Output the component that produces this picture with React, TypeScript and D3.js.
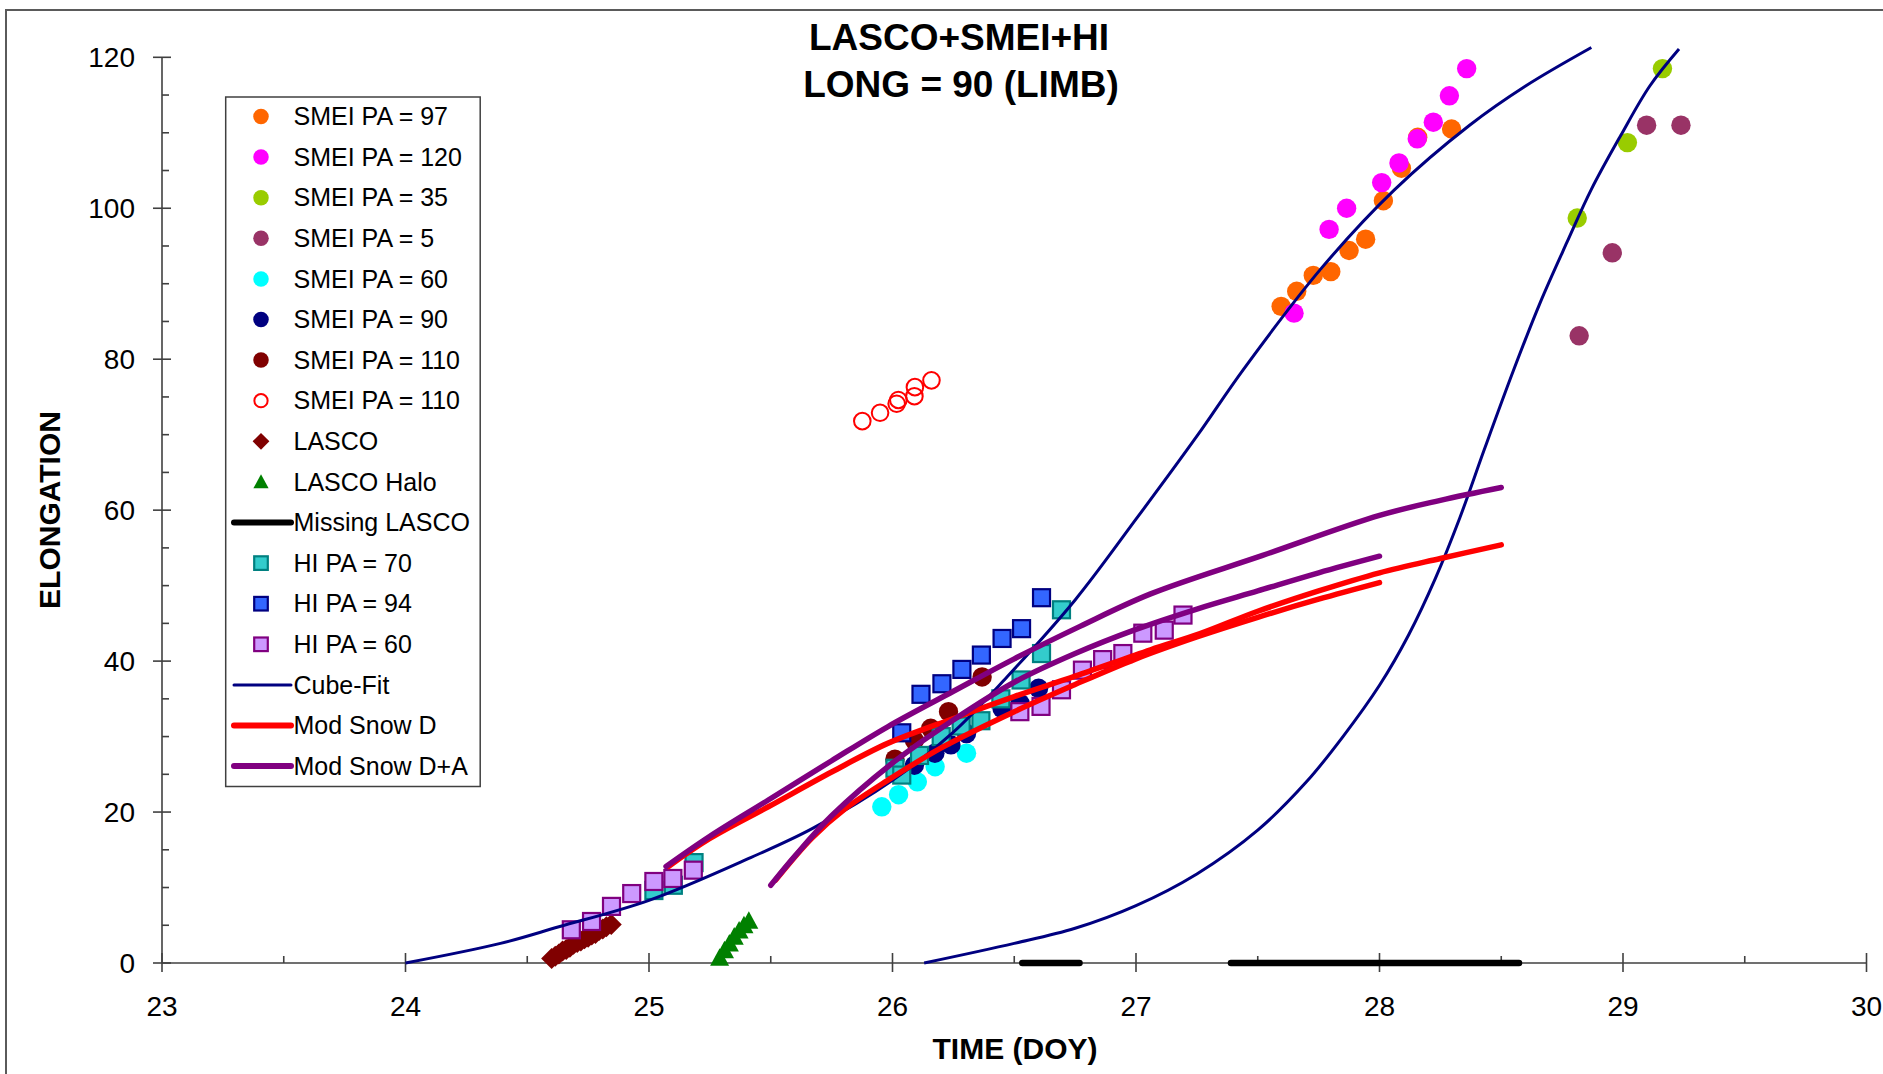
import React from 'react';
import * as d3 from 'd3';

type P = [number, number];

// ---------- data (time DOY, elongation) ----------
const smeiPA97: P[] = [[27.596, 87.0], [27.66, 89.0], [27.728, 91.1], [27.80, 91.6], [27.875, 94.4], [27.943, 95.9], [28.016, 101.0], [28.09, 105.3], [28.157, 109.4], [28.296, 110.5]];
const smeiPA120: P[] = [[27.649, 86.1], [27.793, 97.2], [27.865, 100.0], [28.009, 103.4], [28.08, 106.0], [28.155, 109.2], [28.221, 111.4], [28.287, 114.9], [28.358, 118.5]];
const smeiPA35: P[] = [[28.812, 98.7], [29.018, 108.7], [29.162, 118.5]];
const smeiPA5: P[] = [[28.82, 83.1], [28.956, 94.1], [29.097, 111.0], [29.238, 111.0]];
const smeiPA60: P[] = [[25.956, 20.7], [26.025, 22.3], [26.102, 24.0], [26.175, 26.0], [26.304, 27.8]];
const smeiPA90: P[] = [[26.09, 26.2], [26.174, 27.8], [26.24, 28.9], [26.304, 30.4], [26.45, 33.7], [26.524, 34.4], [26.6, 36.4]];
const smeiPA110: P[] = [[26.01, 27.0], [26.09, 29.5], [26.157, 31.1], [26.23, 33.3], [26.368, 37.9]];
const smeiPA110open: P[] = [[25.876, 71.8], [25.949, 72.9], [26.017, 74.1], [26.024, 74.6], [26.09, 75.1], [26.092, 76.3], [26.16, 77.2]];
const lasco: P[] = [[24.60, 0.6], [24.615, 0.9], [24.63, 1.2], [24.645, 1.6], [24.66, 1.8], [24.675, 2.1], [24.69, 2.5], [24.705, 2.7], [24.72, 2.9], [24.735, 3.2], [24.75, 3.4], [24.765, 3.7], [24.78, 3.9], [24.795, 4.3], [24.81, 4.5], [24.825, 4.8], [24.845, 5.1]];
const lascoHalo: P[] = [[25.29, 0.7], [25.31, 1.7], [25.33, 2.6], [25.35, 3.5], [25.37, 4.3], [25.39, 5.0], [25.41, 5.6]];
const missingLasco: P[][] = [[[26.533, 0], [26.768, 0]], [[27.39, 0], [28.573, 0]]];
const hiPA70: P[] = [[25.02, 9.6], [25.10, 10.3], [25.185, 13.3], [26.01, 25.8], [26.038, 24.9], [26.111, 27.5], [26.2, 30.0], [26.282, 31.4], [26.363, 32.1], [26.445, 35.0], [26.528, 37.5], [26.612, 41.0], [26.694, 46.8]];
const hiPA94: P[] = [[26.038, 30.5], [26.117, 35.6], [26.203, 37.0], [26.285, 38.9], [26.365, 40.8], [26.45, 43.0], [26.53, 44.3], [26.612, 48.4]];
const hiPA60: P[] = [[24.681, 4.4], [24.764, 5.5], [24.846, 7.5], [24.929, 9.2], [25.02, 10.8], [25.098, 11.2], [25.182, 12.3], [26.523, 33.3], [26.61, 34.0], [26.694, 36.2], [26.78, 38.8], [26.863, 40.2], [26.946, 41.0], [27.028, 43.7], [27.116, 44.1], [27.193, 46.1]];
const cubeFit1: P[] = [[24.0, 0], [24.39, 2.6], [24.63, 4.8], [25.0, 8.3], [25.42, 14.0], [25.67, 17.8], [26.0, 24.2], [26.25, 30.6], [26.47, 37.9], [26.75, 48.1], [27.0, 58.8], [27.25, 69.8], [27.44, 78.6], [27.76, 92.0], [28.06, 102.4], [28.37, 111.0], [28.6, 116.2], [28.87, 121.3]];
const cubeFit2: P[] = [[26.13, 0], [26.5, 2.6], [26.75, 4.6], [27.0, 7.6], [27.25, 11.8], [27.5, 17.6], [27.7, 24.0], [27.85, 30.0], [28.0, 36.8], [28.12, 43.5], [28.23, 51.0], [28.33, 59.0], [28.43, 68.0], [28.55, 78.5], [28.66, 87.5], [28.77, 95.5], [28.87, 102.5], [28.99, 109.6], [29.11, 116.2], [29.23, 121.1]];
const modSnowD1: P[] = [[25.08, 12.8], [25.25, 16.5], [25.49, 20.7], [25.75, 25.3], [25.98, 29.1], [26.25, 32.4], [26.5, 35.3], [26.75, 38.0], [27.06, 41.5], [27.26, 43.6], [27.5, 46.6], [27.75, 49.3], [28.0, 51.7], [28.25, 53.6], [28.5, 55.4]];
const modSnowD2: P[] = [[25.52, 11.0], [25.67, 16.6], [25.8, 20.3], [25.98, 24.2], [26.2, 28.5], [26.5, 33.3], [26.75, 36.9], [27.0, 40.3], [27.25, 43.2], [27.5, 45.8], [27.75, 48.2], [28.0, 50.4]];
const modSnowDA1: P[] = [[25.07, 12.8], [25.25, 16.8], [25.49, 21.6], [25.75, 26.8], [25.98, 31.3], [26.25, 36.0], [26.5, 40.3], [26.77, 44.6], [27.06, 48.9], [27.52, 54.0], [28.0, 59.3], [28.25, 61.3], [28.5, 63.0]];
const modSnowDA2: P[] = [[25.5, 10.3], [25.6, 14.2], [25.75, 19.5], [26.0, 26.5], [26.25, 32.2], [26.5, 37.2], [26.75, 41.0], [27.0, 44.2], [27.25, 46.9], [27.5, 49.3], [27.75, 51.7], [28.0, 53.9]];

const xTicks = [23, 24, 25, 26, 27, 28, 29, 30];
const yTicks = [0, 20, 40, 60, 80, 100, 120];
const xMinor = [23.5, 24.5, 25.5, 26.5, 27.5, 28.5, 29.5];
const yMinor = d3.range(0, 121, 5).filter((v) => v % 20 !== 0);

type LegendItem = { label: string; kind: string; fill?: string; stroke?: string; width?: number };
const legendItems: LegendItem[] = [
  { label: 'SMEI PA = 97', kind: 'circle', fill: '#FF6600' },
  { label: 'SMEI PA = 120', kind: 'circle', fill: '#FF00FF' },
  { label: 'SMEI PA = 35', kind: 'circle', fill: '#99CC00' },
  { label: 'SMEI PA = 5', kind: 'circle', fill: '#993366' },
  { label: 'SMEI PA = 60', kind: 'circle', fill: '#00FFFF' },
  { label: 'SMEI PA = 90', kind: 'circle', fill: '#000080' },
  { label: 'SMEI PA = 110', kind: 'circle', fill: '#800000' },
  { label: 'SMEI PA = 110', kind: 'open', stroke: '#FF0000' },
  { label: 'LASCO', kind: 'diamond', fill: '#800000' },
  { label: 'LASCO Halo', kind: 'triangle', fill: '#008000' },
  { label: 'Missing LASCO', kind: 'line', stroke: '#000000', width: 6 },
  { label: 'HI PA = 70', kind: 'square', fill: '#33CCCC', stroke: '#008080' },
  { label: 'HI PA = 94', kind: 'square', fill: '#3366FF', stroke: '#000080' },
  { label: 'HI PA = 60', kind: 'square', fill: '#CC99FF', stroke: '#800080' },
  { label: 'Cube-Fit', kind: 'line', stroke: '#000080', width: 3 },
  { label: 'Mod Snow D', kind: 'line', stroke: '#FF0000', width: 6 },
  { label: 'Mod Snow D+A', kind: 'line', stroke: '#800080', width: 6 },
];

const W = 1883;
const H = 1074;
const FONT = '"Liberation Sans", Arial, sans-serif';

const x = d3.scaleLinear().domain([23, 30]).range([162, 1866.5]);
const y = d3.scaleLinear().domain([0, 120]).range([963, 57.3]);

const line = d3.line<P>().x((d) => x(d[0])).y((d) => y(d[1])).curve(d3.curveCatmullRom.alpha(0.5));
const straight = d3.line<P>().x((d) => x(d[0])).y((d) => y(d[1]));

function Marker({ kind, cx, cy, fill, stroke, s = 1 }: { kind: string; cx: number; cy: number; fill?: string; stroke?: string; s?: number }) {
  if (kind === 'circle') return <circle cx={cx} cy={cy} r={9.7 * s} fill={fill} />;
  if (kind === 'open') return <circle cx={cx} cy={cy} r={8.3 * s} fill="none" stroke={stroke} strokeWidth={2} />;
  if (kind === 'diamond') {
    const h = 10.5 * s;
    return <polygon points={`${cx},${cy - h} ${cx + h},${cy} ${cx},${cy + h} ${cx - h},${cy}`} fill={fill} />;
  }
  if (kind === 'triangle') {
    const h = 9.5 * s;
    return <polygon points={`${cx},${cy - h} ${cx + h},${cy + h * 0.85} ${cx - h},${cy + h * 0.85}`} fill={fill} />;
  }
  if (kind === 'square') {
    const h = 8.5 * s;
    return <rect x={cx - h} y={cy - h} width={2 * h} height={2 * h} fill={fill} stroke={stroke} strokeWidth={2.2} />;
  }
  return null;
}

function Points({ data, kind, fill, stroke }: { data: P[]; kind: string; fill?: string; stroke?: string }) {
  return (
    <g>
      {data.map((d, i) => (
        <Marker key={i} kind={kind} cx={x(d[0])} cy={y(d[1])} fill={fill} stroke={stroke} />
      ))}
    </g>
  );
}

export default function App() {
  const legX = 225.7;
  const legY = 97;
  const legW = 254.5;
  const legH = 689.5;
  return (
    <svg width={W} height={H} style={{ position: 'absolute', left: 0, top: 0, background: '#fff' }} fontFamily={FONT}>
      <rect x={0} y={0} width={W} height={H} fill="#fff" />
      {/* chart frame */}
      <path d={`M6,${H + 5} V10 H${W + 5}`} fill="none" stroke="#5a5a5a" strokeWidth={2} />

      {/* title */}
      <text x={959} y={50} textAnchor="middle" fontSize={37} fontWeight="bold">LASCO+SMEI+HI</text>
      <text x={961} y={96.5} textAnchor="middle" fontSize={37} fontWeight="bold">LONG = 90 (LIMB)</text>

      {/* axes */}
      <g stroke="#404040" strokeWidth={1.6}>
        <line x1={x(23)} x2={x(23)} y1={y(0)} y2={y(120)} />
        <line x1={x(23)} x2={x(30)} y1={y(0)} y2={y(0)} />
        {yTicks.map((t) => (
          <line key={'yt' + t} x1={x(23) - 9} x2={x(23) + 9} y1={y(t)} y2={y(t)} />
        ))}
        {yMinor.map((t) => (
          <line key={'ym' + t} x1={x(23)} x2={x(23) + 7} y1={y(t)} y2={y(t)} />
        ))}
        {xTicks.map((t) => (
          <line key={'xt' + t} x1={x(t)} x2={x(t)} y1={y(0) - 10} y2={y(0) + 9} />
        ))}
        {xMinor.map((t) => (
          <line key={'xm' + t} x1={x(t)} x2={x(t)} y1={y(0) - 7} y2={y(0)} />
        ))}
      </g>
      <g fontSize={28} fill="#000">
        {yTicks.map((t) => (
          <text key={'yl' + t} x={135} y={y(t)} dy="0.35em" textAnchor="end">{t}</text>
        ))}
        {xTicks.map((t) => (
          <text key={'xl' + t} x={x(t)} y={1016} textAnchor="middle">{t}</text>
        ))}
      </g>
      <text x={1015} y={1059} textAnchor="middle" fontSize={30} fontWeight="bold">TIME (DOY)</text>
      <text transform="translate(60,510) rotate(-90)" textAnchor="middle" fontSize={30} fontWeight="bold">ELONGATION</text>

      {/* series in legend order */}
      <Points data={smeiPA97} kind="circle" fill="#FF6600" />
      <Points data={smeiPA120} kind="circle" fill="#FF00FF" />
      <Points data={smeiPA35} kind="circle" fill="#99CC00" />
      <Points data={smeiPA5} kind="circle" fill="#993366" />
      <Points data={smeiPA60} kind="circle" fill="#00FFFF" />
      <Points data={smeiPA90} kind="circle" fill="#000080" />
      <Points data={smeiPA110} kind="circle" fill="#800000" />
      <Points data={smeiPA110open} kind="open" stroke="#FF0000" />
      <Points data={lasco} kind="diamond" fill="#800000" />
      <Points data={lascoHalo} kind="triangle" fill="#008000" />
      {missingLasco.map((seg, i) => (
        <path key={'ml' + i} d={straight(seg) || ''} stroke="#000" strokeWidth={6.5} strokeLinecap="round" fill="none" />
      ))}
      <Points data={hiPA70} kind="square" fill="#33CCCC" stroke="#008080" />
      <Points data={hiPA94} kind="square" fill="#3366FF" stroke="#000080" />
      <Points data={hiPA60} kind="square" fill="#CC99FF" stroke="#800080" />
      {[cubeFit1, cubeFit2].map((d, i) => (
        <path key={'cf' + i} d={line(d) || ''} stroke="#000080" strokeWidth={3} fill="none" />
      ))}
      {[modSnowD1, modSnowD2].map((d, i) => (
        <path key={'sd' + i} d={line(d) || ''} stroke="#FF0000" strokeWidth={5.5} strokeLinecap="round" fill="none" />
      ))}
      {[modSnowDA1, modSnowDA2].map((d, i) => (
        <path key={'sda' + i} d={line(d) || ''} stroke="#800080" strokeWidth={5.5} strokeLinecap="round" fill="none" />
      ))}

      {/* legend */}
      <rect x={legX} y={legY} width={legW} height={legH} fill="#fff" stroke="#404040" strokeWidth={1.5} />
      {legendItems.map((it, i) => {
        const cy = 116.5 + i * 40.6;
        return (
          <g key={'lg' + i}>
            {it.kind === 'line' ? (
              <line x1={234} x2={291} y1={cy} y2={cy} stroke={it.stroke} strokeWidth={it.width} strokeLinecap="round" />
            ) : (
              <Marker kind={it.kind} cx={261} cy={cy} fill={it.fill} stroke={it.stroke} s={0.8} />
            )}
            <text x={293.5} y={cy} dy="0.35em" fontSize={25}>{it.label}</text>
          </g>
        );
      })}
    </svg>
  );
}
